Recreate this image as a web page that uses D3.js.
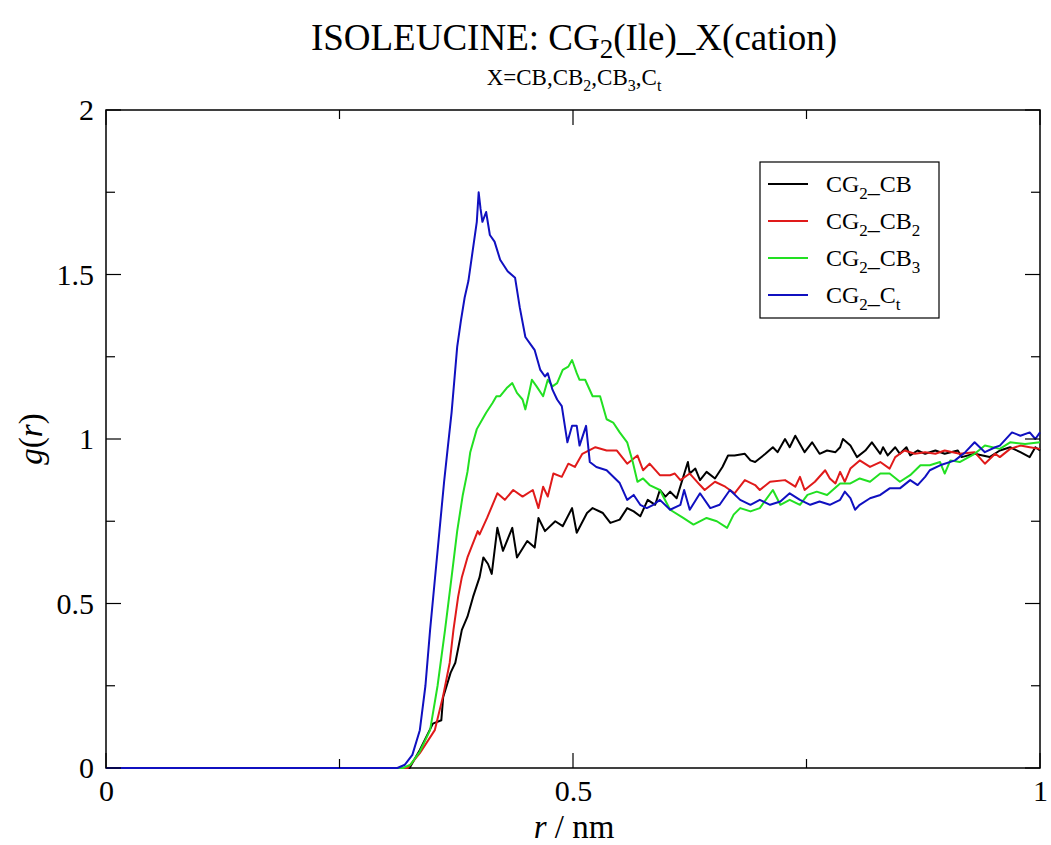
<!DOCTYPE html>
<html>
<head>
<meta charset="utf-8">
<script src="https://cdn.jsdelivr.net/npm/d3@7"></script>
<style>
  body { margin: 0; background: #fff; }
  svg text { font-family: "Liberation Serif", "DejaVu Serif", serif; fill: #000; }
</style>
</head>
<body>
<svg id="chart" width="1051" height="845"></svg>
<script>
// g(r) curves, r in nm
var rBlack = [0,0.325,0.336,0.350,0.359,0.361,0.369,0.374,0.381,0.387,0.393,0.400,0.404,0.409,0.413,0.419,0.425,0.435,0.440,0.451,0.459,0.463,0.470,0.481,0.489,0.499,0.504,0.515,0.521,0.532,0.540,0.550,0.558,0.565,0.572,0.580,0.588,0.593,0.599,0.604,0.611,0.623,0.625,0.631,0.636,0.643,0.652,0.660,0.666,0.673,0.684,0.690,0.695,0.706,0.714,0.719,0.727,0.732,0.738,0.748,0.756,0.764,0.772,0.781,0.786,0.789,0.797,0.804,0.813,0.820,0.829,0.832,0.837,0.845,0.850,0.857,0.861,0.869,0.877,0.888,0.898,0.912,0.916,0.930,0.946,0.957,0.968,0.979,0.989,0.995,1.000];
var gBlack = [0,0,0.055,0.135,0.145,0.215,0.29,0.32,0.42,0.46,0.52,0.58,0.64,0.62,0.59,0.73,0.66,0.73,0.64,0.69,0.67,0.76,0.72,0.75,0.735,0.79,0.715,0.775,0.79,0.775,0.745,0.755,0.79,0.78,0.765,0.815,0.80,0.845,0.825,0.84,0.82,0.93,0.895,0.91,0.875,0.90,0.88,0.915,0.95,0.95,0.955,0.935,0.93,0.955,0.975,0.96,1.00,0.975,1.01,0.96,0.99,0.955,0.965,0.96,0.975,1.00,0.98,0.945,0.965,0.99,0.955,0.975,0.95,0.975,0.955,0.975,0.95,0.965,0.955,0.965,0.955,0.965,0.945,0.955,0.945,0.965,0.975,0.96,0.945,0.975,0.965];

var rRed = [0,0.323,0.336,0.352,0.361,0.368,0.372,0.377,0.381,0.387,0.398,0.400,0.408,0.419,0.427,0.436,0.446,0.457,0.463,0.468,0.473,0.479,0.488,0.495,0.502,0.510,0.524,0.536,0.547,0.558,0.569,0.575,0.582,0.593,0.604,0.609,0.615,0.625,0.636,0.641,0.652,0.663,0.673,0.684,0.695,0.700,0.711,0.727,0.738,0.743,0.748,0.759,0.770,0.775,0.781,0.786,0.791,0.797,0.807,0.818,0.829,0.839,0.845,0.855,0.866,0.877,0.888,0.898,0.914,0.930,0.941,0.952,0.957,0.968,0.979,0.989,1.000];
var gRed = [0,0,0.045,0.115,0.22,0.32,0.42,0.52,0.58,0.64,0.72,0.71,0.76,0.835,0.815,0.845,0.825,0.845,0.79,0.855,0.825,0.895,0.885,0.925,0.915,0.955,0.975,0.965,0.965,0.925,0.95,0.905,0.925,0.89,0.89,0.895,0.875,0.895,0.86,0.845,0.87,0.855,0.835,0.875,0.86,0.845,0.87,0.875,0.855,0.885,0.845,0.87,0.905,0.88,0.865,0.90,0.87,0.91,0.935,0.915,0.93,0.91,0.945,0.965,0.955,0.96,0.955,0.965,0.955,0.96,0.925,0.955,0.945,0.97,0.98,0.975,0.97];

var rGreen = [0,0.318,0.326,0.336,0.347,0.355,0.363,0.370,0.376,0.382,0.387,0.390,0.397,0.403,0.407,0.414,0.418,0.422,0.429,0.435,0.440,0.446,0.449,0.453,0.456,0.461,0.468,0.473,0.478,0.483,0.489,0.495,0.499,0.504,0.507,0.513,0.521,0.529,0.536,0.543,0.550,0.558,0.564,0.569,0.575,0.582,0.593,0.604,0.618,0.629,0.643,0.654,0.665,0.672,0.679,0.690,0.700,0.714,0.722,0.732,0.743,0.751,0.761,0.772,0.786,0.797,0.807,0.818,0.829,0.839,0.850,0.861,0.872,0.882,0.893,0.898,0.904,0.914,0.930,0.941,0.957,0.968,0.984,1.000];
var gGreen = [0,0,0.01,0.05,0.115,0.25,0.42,0.58,0.72,0.83,0.90,0.96,1.03,1.06,1.08,1.11,1.13,1.13,1.155,1.17,1.14,1.12,1.09,1.14,1.18,1.16,1.13,1.18,1.16,1.17,1.21,1.22,1.24,1.20,1.18,1.18,1.13,1.13,1.06,1.05,1.02,0.99,0.93,0.87,0.88,0.86,0.845,0.785,0.76,0.74,0.76,0.75,0.73,0.77,0.79,0.78,0.79,0.845,0.80,0.815,0.80,0.83,0.84,0.83,0.865,0.865,0.88,0.87,0.895,0.895,0.87,0.89,0.92,0.92,0.93,0.895,0.935,0.93,0.955,0.98,0.97,0.99,0.985,0.99];

var rBlue = [0,0.312,0.320,0.328,0.336,0.342,0.347,0.352,0.357,0.362,0.366,0.370,0.376,0.380,0.384,0.388,0.393,0.397,0.399,0.401,0.403,0.407,0.411,0.416,0.422,0.430,0.438,0.443,0.449,0.454,0.459,0.465,0.470,0.473,0.478,0.483,0.488,0.494,0.499,0.504,0.507,0.514,0.518,0.525,0.536,0.550,0.558,0.565,0.572,0.579,0.586,0.593,0.604,0.615,0.619,0.625,0.636,0.647,0.657,0.668,0.679,0.690,0.700,0.711,0.722,0.732,0.743,0.754,0.764,0.775,0.786,0.791,0.797,0.802,0.807,0.818,0.829,0.839,0.850,0.861,0.869,0.877,0.882,0.893,0.909,0.920,0.930,0.941,0.952,0.957,0.970,0.979,0.989,0.995,1.000];
var gBlue = [0,0,0.01,0.04,0.115,0.25,0.42,0.57,0.72,0.87,0.976,1.08,1.28,1.36,1.43,1.48,1.58,1.66,1.75,1.70,1.66,1.69,1.62,1.60,1.545,1.51,1.49,1.40,1.31,1.29,1.27,1.21,1.19,1.20,1.15,1.12,1.10,0.99,1.04,1.04,0.98,1.04,0.93,0.915,0.905,0.866,0.815,0.83,0.80,0.79,0.80,0.815,0.785,0.80,0.845,0.785,0.835,0.79,0.80,0.845,0.815,0.80,0.815,0.80,0.81,0.835,0.815,0.80,0.81,0.80,0.815,0.84,0.82,0.785,0.80,0.82,0.83,0.85,0.85,0.875,0.86,0.885,0.905,0.92,0.935,0.96,0.99,0.96,0.975,0.98,1.02,1.01,1.02,1.00,1.02];

var seriesNames = ['CB', 'CB', 'CB', 'C'];
var seriesSubs = ['', '2', '3', 't'];
var seriesColors = ['#000000', '#e01a1a', '#22e022', '#1010c0'];
var xTicks = [0, 0.5, 1];
var yTicks = [0, 0.5, 1, 1.5, 2];

var series = [
  {r: rBlack, g: gBlack},
  {r: rRed, g: gRed},
  {r: rGreen, g: gGreen},
  {r: rBlue, g: gBlue}
];

var svg = d3.select('#chart');
var pLeft = 106, pRight = 1040, pTop = 110, pBottom = 768;

var x = d3.scaleLinear().domain([0, 1]).range([pLeft, pRight]);
var y = d3.scaleLinear().domain([0, 2]).range([pBottom, pTop]);

// title
var title = svg.append('text').attr('x', 574).attr('y', 50)
  .attr('text-anchor', 'middle').style('font-size', '37px');
title.append('tspan').text('ISOLEUCINE: CG');
title.append('tspan').attr('dy', 8).style('font-size', '27px').text('2');
title.append('tspan').attr('dy', -8).text('(Ile)_X(cation)');

var sub = svg.append('text').attr('x', 574).attr('y', 85)
  .attr('text-anchor', 'middle').style('font-size', '23px');
sub.append('tspan').text('X=CB,CB');
sub.append('tspan').attr('dy', 6).style('font-size', '16px').text('2');
sub.append('tspan').attr('dy', -6).text(',CB');
sub.append('tspan').attr('dy', 6).style('font-size', '16px').text('3');
sub.append('tspan').attr('dy', -6).text(',C');
sub.append('tspan').attr('dy', 6).style('font-size', '16px').text('t');

// frame
svg.append('rect')
  .attr('x', pLeft).attr('y', pTop)
  .attr('width', pRight - pLeft).attr('height', pBottom - pTop)
  .attr('fill', 'none').attr('stroke', '#000').attr('stroke-width', 1.5);

// curves (drawn over the frame, like the original)
var line = d3.line()
  .x(function(d){ return x(d[0]); })
  .y(function(d){ return y(d[1]); });

series.forEach(function(s, i){
  var pts = s.r.map(function(r, k){ return [r, s.g[k]]; });
  svg.append('path')
    .attr('d', line(pts))
    .attr('fill', 'none')
    .attr('stroke', seriesColors[i])
    .attr('stroke-width', 2)
    .attr('stroke-linejoin', 'round');
});

// axes, ticks pointing inward on all sides
var minorX = d3.range(0, 1.0001, 0.25);
var minorY = d3.range(0, 2.0001, 0.25);

function tickSize(v){ return (Math.abs(v * 2 - Math.round(v * 2)) < 1e-6) ? 15 : 9; }

var xAxis = svg.append('g').attr('transform', 'translate(0,' + pBottom + ')')
  .call(d3.axisBottom(x).tickValues(xTicks).tickSize(0).tickPadding(12).tickFormat(d3.format('')));
xAxis.select('.domain').remove();
xAxis.selectAll('text').style('font-size', '30px').attr('font-family', null);

var yAxis = svg.append('g').attr('transform', 'translate(' + pLeft + ',0)')
  .call(d3.axisLeft(y).tickValues(yTicks).tickSize(0).tickPadding(12).tickFormat(d3.format('')));
yAxis.select('.domain').remove();
yAxis.selectAll('text').style('font-size', '30px').attr('font-family', null);

var tk = svg.append('g').attr('stroke', '#000').attr('stroke-width', 1.2);
minorX.forEach(function(v){
  var L = tickSize(v);
  tk.append('line').attr('x1', x(v)).attr('x2', x(v)).attr('y1', pBottom).attr('y2', pBottom - L);
  tk.append('line').attr('x1', x(v)).attr('x2', x(v)).attr('y1', pTop).attr('y2', pTop + L);
});
minorY.forEach(function(v){
  var L = tickSize(v);
  tk.append('line').attr('y1', y(v)).attr('y2', y(v)).attr('x1', pLeft).attr('x2', pLeft + L);
  tk.append('line').attr('y1', y(v)).attr('y2', y(v)).attr('x1', pRight).attr('x2', pRight - L);
});

// axis labels
var xl = svg.append('text').attr('x', 574).attr('y', 838)
  .attr('text-anchor', 'middle').style('font-size', '33px');
xl.append('tspan').style('font-style', 'italic').text('r');
xl.append('tspan').text(' / nm');

var yl = svg.append('text').attr('transform', 'translate(42,439) rotate(-90)')
  .attr('text-anchor', 'middle').style('font-size', '33px');
yl.append('tspan').style('font-style', 'italic').text('g');
yl.append('tspan').text('(');
yl.append('tspan').style('font-style', 'italic').text('r');
yl.append('tspan').text(')');

// legend
var lg = svg.append('g');
lg.append('rect').attr('x', 760).attr('y', 162).attr('width', 179).attr('height', 156)
  .attr('fill', '#fff').attr('stroke', '#000').attr('stroke-width', 1.2);
seriesNames.forEach(function(n, i){
  var ly = 184 + i * 37;
  lg.append('line').attr('x1', 768).attr('x2', 808).attr('y1', ly).attr('y2', ly)
    .attr('stroke', seriesColors[i]).attr('stroke-width', 2);
  var t = lg.append('text').attr('x', 826).attr('y', ly + 8).style('font-size', '24px');
  t.append('tspan').text('CG');
  t.append('tspan').attr('dy', 7).style('font-size', '17px').text('2');
  t.append('tspan').attr('dy', -7).text('_' + n);
  if (seriesSubs[i]) t.append('tspan').attr('dy', 7).style('font-size', '17px').text(seriesSubs[i]);
});
</script>
</body>
</html>
